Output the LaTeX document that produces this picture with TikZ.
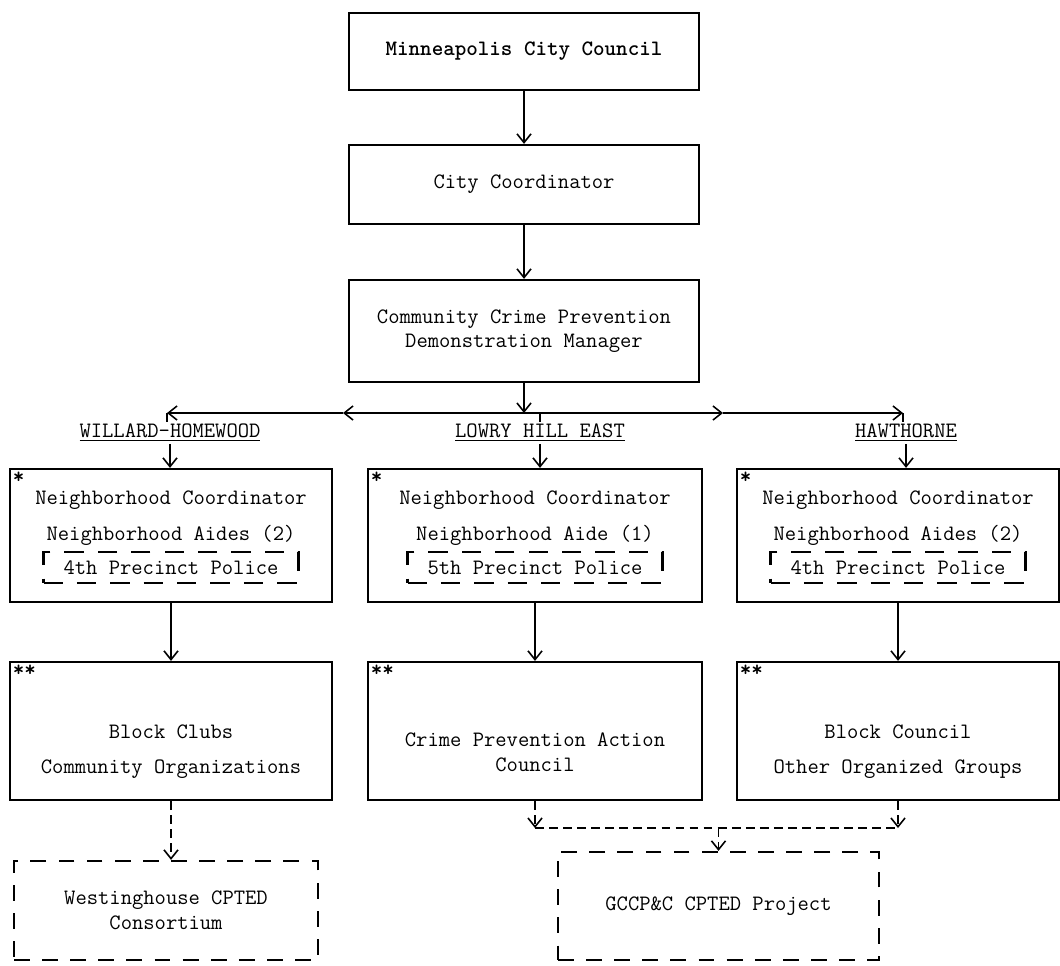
\documentclass[tikz,border=0pt]{standalone}
\usepackage{fontspec}
\usetikzlibrary{arrows.meta,calc}

\newcommand{\orgfont}{\ttfamily\fontsize{12.5}{14}\selectfont}

\tikzset{
    orgbox/.style={draw, line width=1.3pt, align=center, font=\orgfont, inner sep=0pt},
    outbox/.style={draw, line width=1.3pt, dash pattern=on 9pt off 7pt, align=center, font=\orgfont, inner sep=0pt},
    policebox/.style={draw, line width=1.5pt, dash pattern=on 11pt off 8pt, font=\orgfont, minimum width=5.1cm, minimum height=0.62cm, inner sep=0pt},
    txt/.style={align=center, font=\orgfont, inner sep=1pt},
    areaname/.style={font=\orgfont, inner sep=1pt},
    starmark/.style={anchor=north west, font=\orgfont\bfseries, inner sep=2pt},
    link/.style={line width=0.9pt, -{Straight Barb[length=5pt,width=8pt]}},
    dashlink/.style={link, dash pattern=on 5pt off 3pt},
}

\begin{document}
\begin{tikzpicture}[x=0.02cm, y=-0.02cm]
    \useasboundingbox (0,0) rectangle (1060,965);

    % City level
    \node[orgbox, minimum width=7cm, minimum height=1.54cm] (council) at (524,51.5) {\bfseries Minneapolis City Council};
    \node[orgbox, minimum width=7cm, minimum height=1.58cm] (coord) at (524,184.5) {City Coordinator};
    \node[orgbox, minimum width=7cm, minimum height=2.04cm] (manager) at (524,331) {Community Crime Prevention\\Demonstration Manager};

    \draw[link] (council) -- (coord);
    \draw[link] (coord) -- (manager);

    % Neighborhood names
    \node[areaname] (willard) at (170,433) {\underline{WILLARD-HOMEWOOD}};
    \node[areaname] (lowry) at (540,433) {\underline{LOWRY HILL EAST}};
    \node[areaname] (hawth) at (906,433) {\underline{HAWTHORNE}};

    % Distribution line
    \coordinate (hub) at (524,413);
    \coordinate (lmid) at (343,413);
    \coordinate (lend) at (167,413);
    \coordinate (rmid) at (723,413);
    \coordinate (rend) at (903,413);
    \draw[link] (manager) -- (hub);
    \draw[link] (hub) -- (lmid);
    \draw[link] (lmid) -- (lend);
    \draw[link] (hub) -- (rmid);
    \draw[link] (rmid) -- (rend);
    \draw[line width=0.9pt] (lend) -- (lend |- willard.north);
    \draw[line width=0.9pt] (lowry.north) -- (lowry.north |- hub);
    \draw[line width=0.9pt] (rend) -- (rend |- hawth.north);

    % Neighborhood staff
    \node[orgbox, minimum width=6.44cm, minimum height=2.66cm] (wstaff) at (171,535.5) {};
    \node[orgbox, minimum width=6.68cm, minimum height=2.66cm] (lstaff) at (535,535.5) {};
    \node[orgbox, minimum width=6.44cm, minimum height=2.66cm] (hstaff) at (898,535.5) {};

    \node[starmark] at (wstaff.north west) {*};
    \node[starmark] at (lstaff.north west) {*};
    \node[starmark] at (hstaff.north west) {*};

    \node[txt] (wcoord) at ($(wstaff)+(0,-35)$) {Neighborhood Coordinator};
    \node[txt] (waides) at (wstaff) {Neighborhood Aides (2)};
    \node[policebox] (wpolice) at ($(wstaff)+(0,32)$) {4th Precinct Police};

    \node[txt] (lcoord) at ($(lstaff)+(0,-35)$) {Neighborhood Coordinator};
    \node[txt] (laides) at (lstaff) {Neighborhood Aide (1)};
    \node[policebox] (lpolice) at ($(lstaff)+(0,32)$) {5th Precinct Police};

    \node[txt] (hcoord) at ($(hstaff)+(0,-35)$) {Neighborhood Coordinator};
    \node[txt] (haides) at (hstaff) {Neighborhood Aides (2)};
    \node[policebox] (hpolice) at ($(hstaff)+(0,32)$) {4th Precinct Police};

    \draw[link] (willard.south) -- (willard.south |- wstaff.north);
    \draw[link] (lowry.south) -- (lowry.south |- lstaff.north);
    \draw[link] (hawth.south) -- (hawth.south |- hstaff.north);

    % Citizen groups
    \node[orgbox, minimum width=6.44cm, minimum height=2.76cm] (wgroups) at (171,731) {};
    \node[orgbox, minimum width=6.68cm, minimum height=2.76cm] (lgroups) at (535,731) {};
    \node[orgbox, minimum width=6.44cm, minimum height=2.76cm] (hgroups) at (898,731) {};

    \node[starmark] at (wgroups.north west) {**};
    \node[starmark] at (lgroups.north west) {**};
    \node[starmark] at (hgroups.north west) {**};

    \node[txt] (wgtext) at ($(wgroups)+(0,21)$) {Block Clubs\\[6pt]Community Organizations};
    \node[txt] (lgtext) at ($(lgroups)+(0,21)$) {Crime Prevention Action\\Council};
    \node[txt] (hgtext) at ($(hgroups)+(0,21)$) {Block Council\\[6pt]Other Organized Groups};

    \draw[link] (wstaff) -- (wgroups);
    \draw[link] (lstaff) -- (lgroups);
    \draw[link] (hstaff) -- (hgroups);

    % CPTED partners
    \node[outbox, minimum width=6.08cm, minimum height=1.98cm] (westing) at (166,910.5) {Westinghouse CPTED\\Consortium};
    \node[outbox, minimum width=6.42cm, minimum height=2.16cm] (gccp) at (718.5,906) {GCCP\&C CPTED Project};

    \coordinate (jl) at (535,828);
    \coordinate (jm) at (718.5,828);
    \coordinate (jr) at (898,828);
    \draw[dashlink] (wgroups.south) -- (wgroups.south |- westing.north);
    \draw[dashlink] (lgroups.south) -- (jl);
    \draw[dashlink] (hgroups.south) -- (jr);
    \draw[line width=0.9pt, dash pattern=on 5pt off 3pt] (jl) -- (jr);
    \draw[dashlink] (jm) -- (gccp.north);
\end{tikzpicture}
\end{document}
